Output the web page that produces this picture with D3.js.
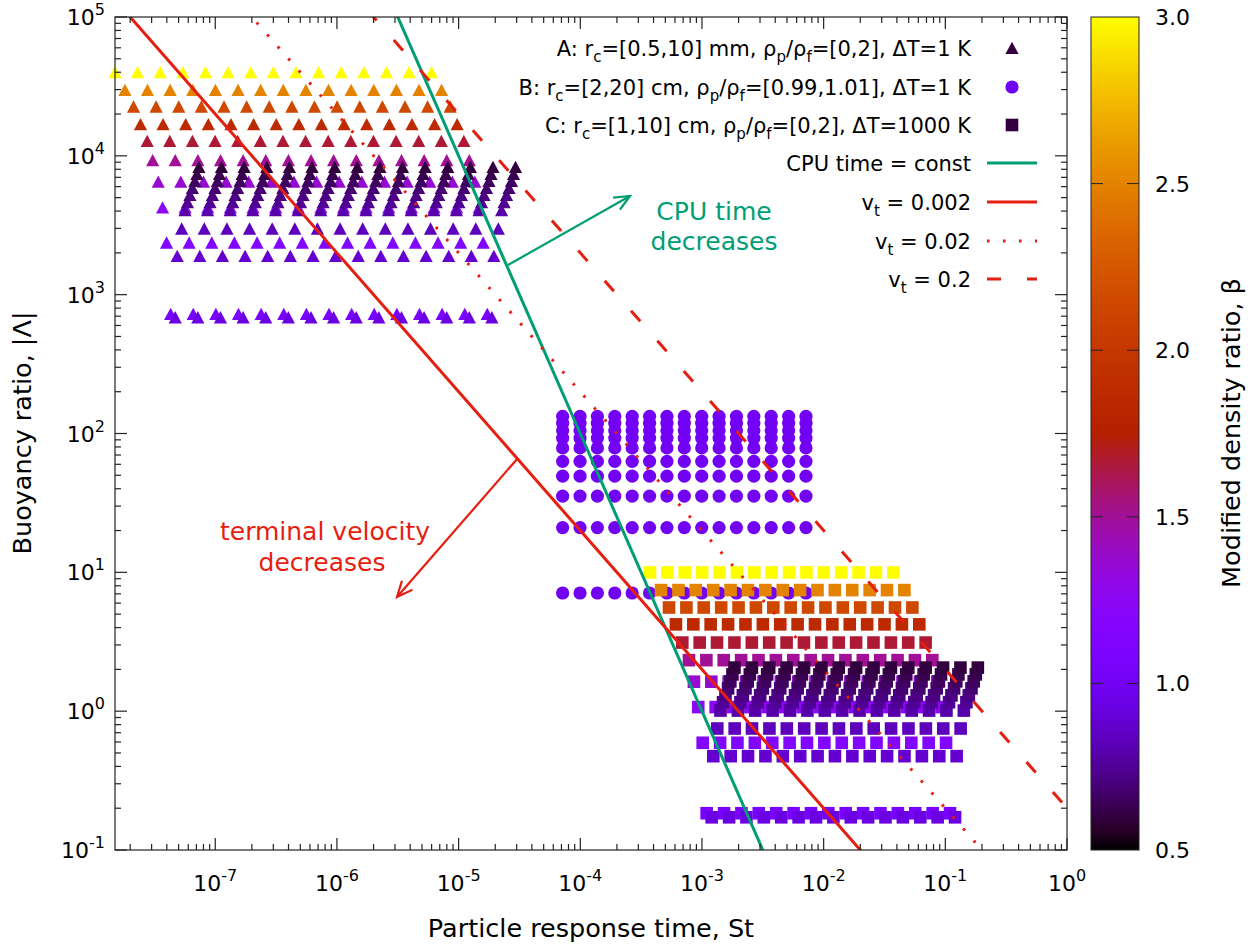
<!DOCTYPE html>
<html><head><meta charset="utf-8">
<script src="https://cdn.jsdelivr.net/npm/d3@7"></script>
<style>body{margin:0;background:#fff} text{font-family:"DejaVu Sans",sans-serif}</style>
</head><body><svg id="c" width="1260" height="945"></svg>
<script>
// ---------------- data ----------------
// particle radii (one column per radius)
const radiiA = [0.5,0.619,0.767,0.950,1.177,1.458,1.806,2.237,2.771,3.432,4.252,5.267,6.524,8.081,10.0]; // mm
const radiiB = [2,2.358,2.779,3.276,3.862,4.553,5.367,6.325,7.456,8.789,10.36,12.21,14.39,16.97,20]; // cm
const radiiC = [1,1.179,1.389,1.638,1.931,2.276,2.683,3.162,3.728,4.394,5.179,6.105,7.197,8.483,10]; // cm

// set A rows: beta, |Lambda|, St of smallest particle
const betaA   = [3.0,2.5,2.143,1.875,1.667,1.5,1.364,1.25,1.154,1.071,0.938,0.882,0.833,0.789,0.75,0.714,0.682,0.652,0.625,0.6];
const lambdaA = [4.0e4,2.98e4,2.26e4,1.69e4,1.28e4,9.3e3,6.5e3,4.25e3,2.37e3,725,686,1.90e3,2.99e3,4.06e3,4.64e3,5.22e3,5.87e3,6.58e3,7.39e3,8.30e3];
const st0A    = [1.50e-8,1.81e-8,2.13e-8,2.43e-8,2.76e-8,3.06e-8,3.40e-8,3.69e-8,3.98e-8,4.30e-8,4.69e-8,4.87e-8,5.30e-8,5.64e-8,5.91e-8,6.19e-8,6.49e-8,6.80e-8,7.07e-8,7.34e-8];

// set B rows
const betaB   = [1.0067,1.0053,1.004,1.0027,1.0013,1.0,0.9987,0.9973,0.996,0.9947];
const lambdaB = [133,118.5,105,92.7,78.7,63,49.3,35.4,21,7.1];
const st0B    = [7.16e-5,7.16e-5,7.16e-5,7.16e-5,7.16e-5,7.16e-5,7.16e-5,7.16e-5,7.16e-5,7.16e-5];

// set C rows
const betaC   = [3.0,2.5,2.143,1.875,1.667,1.5,1.364,1.25,1.154,1.071,0.938,0.882,0.833,0.789,0.75,0.714,0.682,0.652,0.625,0.6];
const lambdaC = [9.98,7.45,5.58,4.22,3.12,2.33,1.63,1.07,0.592,0.184,0.172,0.474,0.75,1.01,1.16,1.30,1.46,1.64,1.84,2.06];
const st0C    = [3.74e-4,4.61e-4,5.36e-4,6.11e-4,6.89e-4,7.82e-4,8.59e-4,9.32e-4,1.014e-3,1.093e-3,1.202e-3,1.239e-3,1.336e-3,1.42e-3,1.49e-3,1.56e-3,1.64e-3,1.71e-3,1.78e-3,1.85e-3];

// reference lines
const cpuConst = 1.0e-6;             // |Lambda| * St^2
const vtValues = [0.002, 0.02, 0.2]; // |Lambda| * St
const vtLabels = ["0.002","0.02","0.2"];
const xTickExp = [-7,-6,-5,-4,-3,-2,-1,0];
const yTickExp = [-1,0,1,2,3,4,5];
const cbTicks  = [0.5,1.0,1.5,2.0,2.5,3.0];

// ---------------- layout ----------------
const L=115, R=1067, T=17, B=850;
const svg = d3.select("#c");
const x = d3.scaleLog().domain([1.5e-8, 1]).range([L,R]);
const y = d3.scaleLog().domain([0.1,1e5]).range([B,T]);
const cb = d3.scaleLinear().domain([0.5,3.0]).range([B,T]);

function pal(b){
  const t=Math.max(0,Math.min(1,(b-0.5)/2.5));
  const r=Math.sqrt(t), g=t*t*t, bl=Math.max(0,Math.sin(2*Math.PI*t));
  return d3.rgb(Math.round(255*r),Math.round(255*g),Math.round(255*bl)).toString();
}
const GREEN="#009e73", RED="#e51e10";
const defs=svg.append("defs");
defs.append("clipPath").attr("id","clip")
  .append("rect").attr("x",L).attr("y",T).attr("width",R-L).attr("height",B-T);

// ---------------- points ----------------
function build(radii, betas, lambdas, st0s){
  const pts=[];
  betas.forEach((b,i)=>{
    radii.forEach(r=>{
      const f=(r/radii[0]);
      pts.push({st:st0s[i]*f*f, lam:lambdas[i], beta:b});
    });
  });
  return pts;
}
const ptsA=build(radiiA,betaA,lambdaA,st0A);
const ptsB=build(radiiB,betaB,lambdaB,st0B);
const ptsC=build(radiiC,betaC,lambdaC,st0C);

const tri=(cx,cy)=>`M${cx},${cy-6.3}L${cx+6.6},${cy+6}L${cx-6.6},${cy+6}Z`;
const gp=svg.append("g");
gp.selectAll("path.a").data(ptsA).enter().append("path")
  .attr("d",d=>tri(x(d.st),y(d.lam))).attr("fill",d=>pal(d.beta));
gp.selectAll("circle.b").data(ptsB).enter().append("circle")
  .attr("cx",d=>x(d.st)).attr("cy",d=>y(d.lam)).attr("r",6.6).attr("fill",d=>pal(d.beta));
gp.selectAll("rect.c").data(ptsC).enter().append("rect")
  .attr("x",d=>x(d.st)-6.3).attr("y",d=>y(d.lam)-6.3).attr("width",12.6).attr("height",12.6).attr("fill",d=>pal(d.beta));

// ---------------- lines ----------------
const stSamples=[1e-9,1e-6,1e-4,1e-2,2];
const lg=svg.append("g").attr("clip-path","url(#clip)");
const line=d3.line().x(d=>x(d[0])).y(d=>y(d[1]));
lg.append("path").attr("d",line(stSamples.map(s=>[s,cpuConst/(s*s)])))
  .attr("fill","none").attr("stroke",GREEN).attr("stroke-width",3);
const dashes=[null,"2.6,13.4","14,26"];
vtValues.forEach((v,i)=>{
  lg.append("path").attr("d",line(stSamples.map(s=>[s,v/s])))
    .attr("fill","none").attr("stroke",RED).attr("stroke-width",3)
    .attr("stroke-dasharray",dashes[i]);
});

// arrows
function arrow(x1,y1,x2,y2,col){
  svg.append("line").attr("x1",x1).attr("y1",y1).attr("x2",x2).attr("y2",y2)
    .attr("stroke",col).attr("stroke-width",2.2);
  const a=Math.atan2(y2-y1,x2-x1), L1=17, sp=0.42;
  const p1=[x2-L1*Math.cos(a-sp),y2-L1*Math.sin(a-sp)];
  const p2=[x2-L1*Math.cos(a+sp),y2-L1*Math.sin(a+sp)];
  svg.append("path").attr("d",`M${p1}L${x2},${y2}L${p2}`).attr("fill","none")
    .attr("stroke",col).attr("stroke-width",2.2);
}
arrow(508,265,630,196,GREEN);
arrow(518,458,397,597,RED);
svg.append("text").attr("x",714).attr("y",220).attr("text-anchor","middle").attr("font-size",25).attr("fill",GREEN).text("CPU time");
svg.append("text").attr("x",714).attr("y",250).attr("text-anchor","middle").attr("font-size",25).attr("fill",GREEN).text("decreases");
svg.append("text").attr("x",325).attr("y",540).attr("text-anchor","middle").attr("font-size",25).attr("fill",RED).text("terminal velocity");
svg.append("text").attr("x",322).attr("y",571).attr("text-anchor","middle").attr("font-size",25).attr("fill",RED).text("decreases");

// ---------------- frame & ticks ----------------
const ax=svg.append("g").attr("stroke","#222").attr("stroke-width",1.2);
ax.append("rect").attr("x",L).attr("y",T).attr("width",R-L).attr("height",B-T).attr("fill","none");
const xTicks=[];
for(let e=-8;e<=0;e++) for(let m=1;m<10;m++){const v=m*Math.pow(10,e); if(v>=x.domain()[0]&&v<=x.domain()[1]*1.0001) xTicks.push({v,maj:m===1});}
xTicks.forEach(t=>{const px=x(t.v), l=t.maj?12:6;
  ax.append("line").attr("x1",px).attr("x2",px).attr("y1",B).attr("y2",B-l);
  ax.append("line").attr("x1",px).attr("x2",px).attr("y1",T).attr("y2",T+l);});
const yTicks=[];
for(let e=-1;e<=4;e++) for(let m=1;m<10;m++) yTicks.push({v:m*Math.pow(10,e),maj:m===1});
yTicks.push({v:1e5,maj:true});
yTicks.forEach(t=>{const py=y(t.v), l=t.maj?12:6;
  ax.append("line").attr("y1",py).attr("y2",py).attr("x1",L).attr("x2",L+l);
  ax.append("line").attr("y1",py).attr("y2",py).attr("x1",R).attr("x2",R-l);});

function pow10(sel,e){
  sel.append("tspan").text("10");
  sel.append("tspan").attr("dy",-10).attr("font-size",16).text(e);
}
xTickExp.forEach(e=>{
  const t=svg.append("text").attr("x",x(Math.pow(10,e))).attr("y",891).attr("text-anchor","middle").attr("font-size",22);
  pow10(t,String(e));
});
yTickExp.forEach(e=>{
  const t=svg.append("text").attr("x",105).attr("y",y(Math.pow(10,e))+8).attr("text-anchor","end").attr("font-size",22);
  pow10(t,String(e));
});
svg.append("text").attr("x",591).attr("y",937).attr("text-anchor","middle").attr("font-size",25.5).text("Particle response time, St");
svg.append("text").attr("transform","translate(31,433) rotate(-90)").attr("text-anchor","middle").attr("font-size",25.5).text("Buoyancy ratio, |Λ|");

// ---------------- colorbar ----------------
const grad=defs.append("linearGradient").attr("id","g").attr("x1",0).attr("y1",1).attr("x2",0).attr("y2",0);
d3.range(0,1.0001,0.02).forEach(t=>grad.append("stop").attr("offset",t).attr("stop-color",pal(0.5+2.5*t)));
const CBL=1091, CBR=1139;
svg.append("rect").attr("x",CBL).attr("y",T).attr("width",CBR-CBL).attr("height",B-T).attr("fill","url(#g)").attr("stroke","#222").attr("stroke-width",1);
cbTicks.forEach(v=>{
  const py=cb(v);
  if(v>0.5&&v<3){
    svg.append("line").attr("x1",CBL).attr("x2",CBL+12).attr("y1",py).attr("y2",py).attr("stroke","#222");
    svg.append("line").attr("x1",CBR-12).attr("x2",CBR).attr("y1",py).attr("y2",py).attr("stroke","#222");
  }
  svg.append("text").attr("x",1155).attr("y",py+8).attr("font-size",22).text(v.toFixed(1));
});
svg.append("text").attr("transform","translate(1240,433) rotate(-90)").attr("text-anchor","middle").attr("font-size",25.5).text("Modified density ratio, β");

// ---------------- legend ----------------
const legTX=971, legSX=1012;
const legY=[48,87,125,163,202,241,279];
function legText(yy,parts){
  const t=svg.append("text").attr("x",legTX).attr("y",yy+8).attr("text-anchor","end").attr("font-size",21);
  let shifted=false;
  parts.forEach(p=>{
    if(typeof p==="string"){ const s=t.append("tspan").text(p); if(shifted){s.attr("dy",-6); shifted=false;} }
    else { t.append("tspan").attr("dy",6).attr("font-size",15).text(p.s); shifted=true; }
  });
}
legText(legY[0],["A: r",{s:"c"},"=[0.5,10] mm, ρ",{s:"p"},"/ρ",{s:"f"},"=[0,2], ΔT=1 K"]);
legText(legY[1],["B: r",{s:"c"},"=[2,20] cm, ρ",{s:"p"},"/ρ",{s:"f"},"=[0.99,1.01], ΔT=1 K"]);
legText(legY[2],["C: r",{s:"c"},"=[1,10] cm, ρ",{s:"p"},"/ρ",{s:"f"},"=[0,2], ΔT=1000 K"]);
legText(legY[3],["CPU time = const"]);
vtLabels.forEach((s,i)=>legText(legY[4+i],["v",{s:"t"}," = "+s]));
const dark=pal(0.6);
svg.append("path").attr("d",tri(legSX,legY[0])).attr("fill",dark);
svg.append("circle").attr("cx",legSX).attr("cy",legY[1]).attr("r",6.6).attr("fill",pal(1.0));
svg.append("rect").attr("x",legSX-6.3).attr("y",legY[2]-6.3).attr("width",12.6).attr("height",12.6).attr("fill",dark);
svg.append("line").attr("x1",987).attr("x2",1037).attr("y1",legY[3]).attr("y2",legY[3]).attr("stroke",GREEN).attr("stroke-width",3);
[null,"2.6,13.4","14,26"].forEach((d,i)=>{
  svg.append("line").attr("x1",987).attr("x2",1037).attr("y1",legY[4+i]).attr("y2",legY[4+i]).attr("stroke",RED).attr("stroke-width",3).attr("stroke-dasharray",d);
});
</script></body></html>
